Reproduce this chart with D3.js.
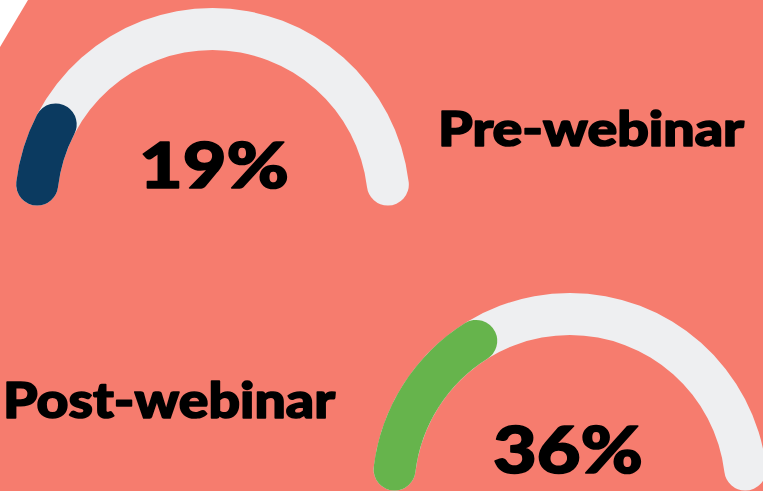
<!DOCTYPE html>
<html>
<head>
<meta charset="utf-8">
<script src="https://cdn.jsdelivr.net/npm/d3@7"></script>
<style>
  html, body { margin: 0; padding: 0; background: #f67c6e; }
  svg { display: block; }
  text { font-family: "Lato", "Inter", "DejaVu Sans", sans-serif; font-weight: 900; fill: #000;
         stroke: #000; stroke-width: 1.6; stroke-linejoin: round; }
</style>
</head>
<body>
<div id="chart"></div>
<script>
// chart data
const labels = ['Pre-webinar', 'Post-webinar'];
const values = [19, 36];            // percent
const valueLabels = ['19%', '36%'];

// look of each gauge
const fillColors = ['#0b3a60', '#66b44c'];
const trackColor = '#eeeff1';

const width = 763, height = 491;

const svg = d3.select('#chart')
  .append('svg')
  .attr('width', width)
  .attr('height', height);

// background + white corner
svg.append('rect').attr('width', width).attr('height', height).attr('fill', '#f67c6e');
svg.append('path').attr('d', 'M0,0 L28,0 L0,47 Z').attr('fill', '#ffffff');

// value -> angle across a half circle
const angle = d3.scaleLinear().domain([0, 100]).range([-Math.PI / 2, Math.PI / 2]);

const R = 176.6, band = 42;
const arc = d3.arc()
  .innerRadius(R - band / 2)
  .outerRadius(R + band / 2)
  .cornerRadius(band / 2);

// layout for each gauge (centre, label and value text boxes)
const layout = [
  { cx: 212.5, cy: 205.6,
    label: { x: 438, y: 146, size: 47, len: 306 },
    value: { x: 139, y: 188, size: 62, len: 150 } },
  { cx: 569.9, cy: 490.6,
    label: { x: 3, y: 418, size: 49, len: 332 },
    value: { x: 493, y: 473, size: 64, len: 150 } }
];

values.forEach((v, i) => {
  const L = layout[i];
  const g = svg.append('g').attr('transform', `translate(${L.cx},${L.cy})`);

  // track
  g.append('path')
    .attr('d', arc({ startAngle: angle(0), endAngle: angle(100) }))
    .attr('fill', trackColor);

  // value
  g.append('path')
    .attr('d', arc({ startAngle: angle(0), endAngle: angle(v) }))
    .attr('fill', fillColors[i]);

  svg.append('text')
    .attr('x', L.value.x)
    .attr('y', L.value.y)
    .attr('font-size', L.value.size)
    .attr('textLength', L.value.len)
    .attr('lengthAdjust', 'spacingAndGlyphs')
    .text(valueLabels[i]);

  svg.append('text')
    .attr('x', L.label.x)
    .attr('y', L.label.y)
    .attr('font-size', L.label.size)
    .attr('textLength', L.label.len)
    .attr('lengthAdjust', 'spacingAndGlyphs')
    .text(labels[i]);
});
</script>
</body>
</html>
